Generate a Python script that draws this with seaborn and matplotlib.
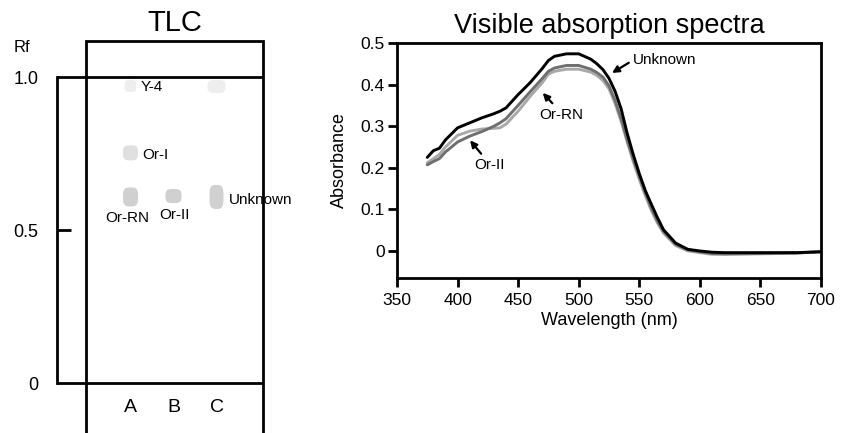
import numpy as np
import pandas as pd
import matplotlib
matplotlib.use("Agg")
import matplotlib.pyplot as plt
from matplotlib.path import Path
from matplotlib.patches import Rectangle
import seaborn as sns

# ---------------- data ----------------
wavelength = [375, 380, 385, 390, 400, 410, 420, 430, 435, 440, 450, 460, 470, 475, 480,
              490, 500, 510, 515, 520, 525, 530, 535, 540, 545, 550, 555, 560, 565, 570,
              580, 590, 600, 610, 620, 650, 680, 700]
abs_unknown = [.225, .241, .247, .267, .296, .308, .320, .330, .336, .344, .376, .405, .439, .458, .468,
               .474, .474, .461, .450, .436, .415, .384, .342, .283, .232, .186, .145, .112, .080, .051,
               .019, .004, .000, -.003, -.004, -.004, -.004, -.002]
abs_or_ii = [.207, .215, .222, .238, .262, .276, .287, .300, .308, .318, .350, .383, .415, .432, .440,
             .446, .446, .437, .429, .418, .397, .362, .318, .268, .222, .180, .140, .103, .072, .047,
             .016, .003, -.002, -.006, -.007, -.006, -.005, -.002]
abs_or_rn = [.212, .222, .232, .250, .278, .288, .293, .295, .296, .305, .336, .372, .405, .425, .432,
             .437, .437, .430, .422, .410, .390, .355, .312, .262, .215, .172, .133, .097, .067, .043,
             .013, .000, -.004, -.008, -.008, -.007, -.005, -.001]

lanes = ["A", "B", "C"]
spot_lane = ["A", "A", "A", "B", "C", "C"]
spot_rf = [0.971, 0.752, 0.608, 0.611, 0.608, 0.969]
spot_name = ["Y-4", "Or-I", "Or-RN", "Or-II", "Unknown", ""]

x_ticks = [350, 400, 450, 500, 550, 600, 650, 700]
y_ticks = [0, 0.1, 0.2, 0.3, 0.4, 0.5]
y_tick_labels = ["0", "0.1", "0.2", "0.3", "0.4", "0.5"]
rf_ticks = [0, 0.5, 1.0]
rf_tick_labels = ["0", "0.5", "1.0"]

# ---------------- style ----------------
sns.set_style("ticks")
plt.rcParams["font.family"] = ["Liberation Sans", "DejaVu Sans"]
plt.rcParams["text.color"] = "black"
plt.rcParams["axes.labelcolor"] = "black"
plt.rcParams["xtick.color"] = "black"
plt.rcParams["ytick.color"] = "black"

fig = plt.figure(figsize=(8.47, 4.33), dpi=100)
W, H = 847, 433
LW = 2.0

# ---------------- spectrum ----------------
ax = fig.add_axes([397 / W, 1 - 278 / H, 424 / W, 235 / H])
df = pd.DataFrame({
    "Wavelength": wavelength * 3,
    "Absorbance": abs_or_rn + abs_or_ii + abs_unknown,
    "Sample": ["Or-RN"] * len(wavelength) + ["Or-II"] * len(wavelength) + ["Unknown"] * len(wavelength),
})
palette = {"Or-RN": "#a9a9a9", "Or-II": "#6f6f6f", "Unknown": "#000000"}
sns.lineplot(data=df, x="Wavelength", y="Absorbance", hue="Sample", palette=palette,
             hue_order=["Or-RN", "Or-II", "Unknown"], linewidth=2.1, legend=False, ax=ax,
             sort=False)
ax.set_xlim(350, 700)
ax.set_ylim(-0.065, 0.5)
ax.set_xticks(x_ticks)
ax.set_yticks(y_ticks)
ax.set_yticklabels(y_tick_labels)
for s in ax.spines.values():
    s.set_linewidth(LW)
    s.set_color("black")
ax.tick_params(axis="both", direction="out", length=6.5, width=LW, labelsize=12.5, colors="black")
ax.tick_params(axis="y", pad=2.5)
ax.tick_params(axis="x", pad=4)
ax.set_xlabel("Wavelength (nm)", fontsize=13, labelpad=3)
ax.set_ylabel("Absorbance", fontsize=13, labelpad=9)
ax.set_title("Visible absorption spectra", fontsize=19.5, pad=7.5)

ann_kw = dict(fontsize=11, color="black")
arrow = dict(arrowstyle="-|>", color="black", lw=1.6, mutation_scale=10, shrinkA=1, shrinkB=0)
ax.annotate("Unknown", xy=(527.5, 0.428), xytext=(545, 0.459), ha="left", va="center",
            arrowprops=dict(arrow, relpos=(0, 0.5)), **ann_kw)
ax.annotate("Or-RN", xy=(470.3, 0.380), xytext=(485.2, 0.328), ha="center", va="center",
            arrowprops=dict(arrow, relpos=(0.4, 1)), **ann_kw)
ax.annotate("Or-II", xy=(410.3, 0.266), xytext=(426.2, 0.2065), ha="center", va="center",
            arrowprops=dict(arrow, relpos=(0.35, 1)), **ann_kw)

# ---------------- TLC ----------------
# lanes A,B,C at pixel x 130, 173, 216 ; Rf 0 at y=383, Rf 1 at y=77
px_per_lane = 43.0
px_per_rf = 306.0
axt = fig.add_axes([86 / W, 0, 177 / W, 392 / H])
axt.set_xlim((86 - 130.5) / px_per_lane, (263 - 130.5) / px_per_lane)
axt.set_ylim((383 - 433) / px_per_rf, (383 - 41) / px_per_rf)
axt.set_facecolor("none")
for k in ["top", "right", "bottom"]:
    axt.spines[k].set_visible(False)
axt.add_patch(Rectangle((0, -0.2), 1, 1.2, transform=axt.transAxes, fill=False,
                        edgecolor="black", lw=LW, clip_on=False))
axt.axhline(0, color="black", lw=LW)
axt.axhline(1, color="black", lw=LW)

# Rf bracket (left spine offset)
axt.spines["left"].set_position(("outward", 29 * 0.72))
axt.spines["left"].set_bounds(0, 1)
axt.spines["left"].set_linewidth(LW)
axt.spines["left"].set_color("black")
axt.set_yticks([rf_ticks[0], rf_ticks[2]])
axt.set_yticklabels([rf_tick_labels[0], rf_tick_labels[2]])
axt.set_yticks([rf_ticks[1]], minor=True)
axt.set_yticklabels([rf_tick_labels[1]], minor=True)
axt.tick_params(axis="y", which="major", direction="in", length=29 * 0.72, width=LW,
                pad=13.5, labelsize=13, colors="black")
axt.tick_params(axis="y", which="minor", direction="in", length=14 * 0.72, width=LW,
                pad=13.5, labelsize=13, colors="black")
axt.set_xticks([])
axt.set_title("TLC", fontsize=21, pad=7)
fig.text(14 / W, 1 - 48 / H, "Rf", ha="left", va="center", fontsize=12)

lane_idx = {l: i for i, l in enumerate(lanes)}
for l in lanes:
    axt.text(lane_idx[l], (383 - 407) / px_per_rf, l, ha="center", va="center", fontsize=14)

# spots
t = np.linspace(0, 2 * np.pi, 60)
def blob(w, h):
    x = np.sign(np.cos(t)) * np.abs(np.cos(t)) ** 0.6 * w
    y = np.sign(np.sin(t)) * np.abs(np.sin(t)) ** 0.6 * h
    return Path(np.column_stack([x, y]), closed=True)

spot_style = {  # (width px, height px, colour)
    0: (12, 12, "#eeeeee"),
    1: (15, 15, "#e0e0e0"),
    2: (15, 19, "#d0d0d0"),
    3: (16, 14, "#d0d0d0"),
    4: (14, 24, "#d0d0d0"),
    5: (18, 13, "#eeeeee"),
}
for i, (ln, rf) in enumerate(zip(spot_lane, spot_rf)):
    w, h, c = spot_style[i]
    size_pt = max(w, h) * 0.72
    sns.scatterplot(x=[lane_idx[ln]], y=[rf], marker=blob(w, h), s=size_pt ** 2,
                    color=c, edgecolor="none", linewidth=0, ax=axt, zorder=3)

label_offsets = {  # points
    "Y-4": ((7.5, -1), "left"),
    "Or-I": ((8.8, -1.5), "left"),
    "Or-RN": ((-2.5, -15), "center"),
    "Or-II": ((0.7, -14), "center"),
    "Unknown": ((9, -2.2), "left"),
}
for ln, rf, nm in zip(spot_lane, spot_rf, spot_name):
    if not nm:
        continue
    off, ha = label_offsets[nm]
    axt.annotate(nm, xy=(lane_idx[ln], rf), xytext=off, textcoords="offset points",
                 ha=ha, va="center", fontsize=11, zorder=4)
axt.set_xlabel("")
axt.set_ylabel("")

fig.savefig("out.png", dpi=100)
